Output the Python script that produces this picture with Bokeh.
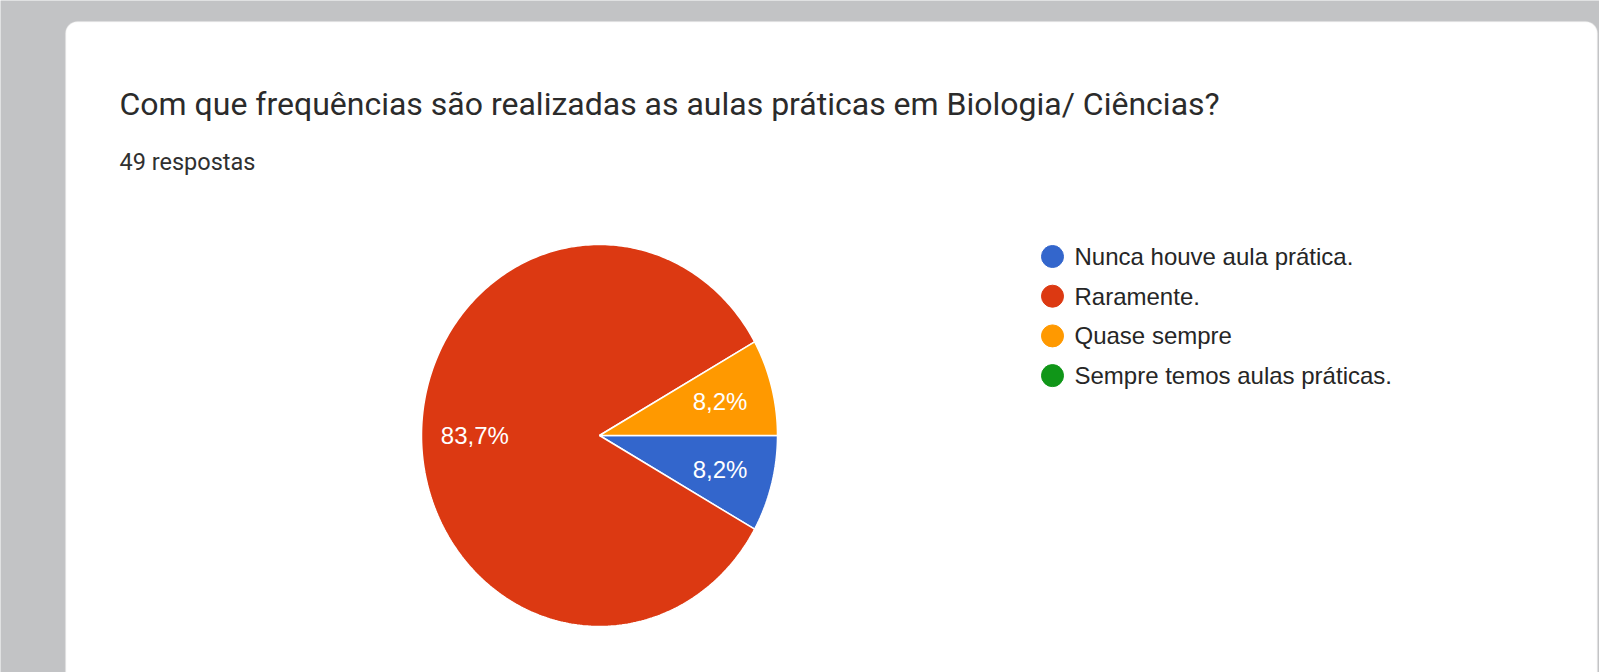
import numpy as np
from bokeh.plotting import figure
from bokeh.models import Range1d, BoxAnnotation, ColumnDataSource
from bokeh.core.properties import value
from bokeh.embed import file_html
from bokeh.resources import INLINE

# ---- data ----
title_text = "Com que frequências são realizadas as aulas práticas em Biologia/ Ciências?"
subtitle_text = "49 respostas"
categories = ["Nunca houve aula prática.", "Raramente.", "Quase sempre", "Sempre temos aulas práticas."]
counts = [4, 41, 4, 0]
colors = ["#3366cc", "#dc3912", "#ff9900", "#109618"]

# ---- layout constants (page pixel coordinates) ----
W, H = 1599, 672
BG = "#c2c3c5"
cx, cy = 599, 435
rx, ry = 178, 191
label_frac = 0.70

p = figure(width=W, height=H, output_backend="svg", toolbar_location=None,
           x_range=Range1d(0, W), y_range=Range1d(H, 0),
           min_border=0, background_fill_color=BG, border_fill_color=BG)
p.axis.visible = False
p.grid.visible = False
p.outline_line_color = None

# card
card = BoxAnnotation(left=65, right=1597, top=21, bottom=760, fill_color="white", fill_alpha=1,
                     line_color="#dcdcdc", line_width=1.5, border_radius=12, level="underlay")
p.add_layout(card)

# title texts
p.text(x=[119], y=[103], text=[title_text], text_font=value("Roboto"), text_font_size="32px",
       text_color="#2b2b2b", text_baseline="alphabetic", text_align="left")
p.text(x=[119], y=[161], text=[subtitle_text], text_font=value("Roboto"), text_font_size="23.5px",
       text_color="#303030", text_baseline="alphabetic", text_align="left")

# pie slices (clockwise from 3 o'clock)
total = float(sum(counts))
fr = np.array(counts) / total
ends = np.cumsum(fr) * 2 * np.pi
starts = np.concatenate([[0.0], ends[:-1]])
xs, ys, cols, lx, ly, lt = [], [], [], [], [], []
for s, e, c, f in zip(starts, ends, colors, fr):
    if f <= 0:
        continue
    t = np.linspace(s, e, max(int((e - s) / (2 * np.pi) * 400), 8))
    xs.append(np.concatenate([[cx], cx + rx * np.cos(t), [cx]]))
    ys.append(np.concatenate([[cy], cy + ry * np.sin(t), [cy]]))
    cols.append(c)
    m = (s + e) / 2
    lx.append(cx + label_frac * rx * np.cos(m))
    ly.append(cy + label_frac * ry * np.sin(m))
    lt.append(f"{f*100:.1f}%".replace(".", ","))

p.patches(xs=xs, ys=ys, fill_color=cols, line_color="white", line_width=1.5)
p.text(x=lx, y=ly, text=lt, text_font=value("Liberation Sans"), text_font_size="24px",
       text_color="white", text_align="center", text_baseline="middle")

# legend
leg_x, leg_y0, leg_dy = 1052, 256, 39.7
ly_leg = [leg_y0 + i * leg_dy for i in range(len(categories))]
src = ColumnDataSource(dict(x=[leg_x] * len(categories), y=ly_leg, c=colors,
                            tx=[leg_x + 22] * len(categories), t=categories))
p.scatter(x="x", y="y", size=22, fill_color="c", line_color="c", source=src)
p.text(x="tx", y="y", text="t", source=src, text_font=value("Liberation Sans"),
       text_font_size="24px", text_color="#262626", text_baseline="middle", text_align="left")

open("out.html", "w").write(file_html(p, INLINE))
